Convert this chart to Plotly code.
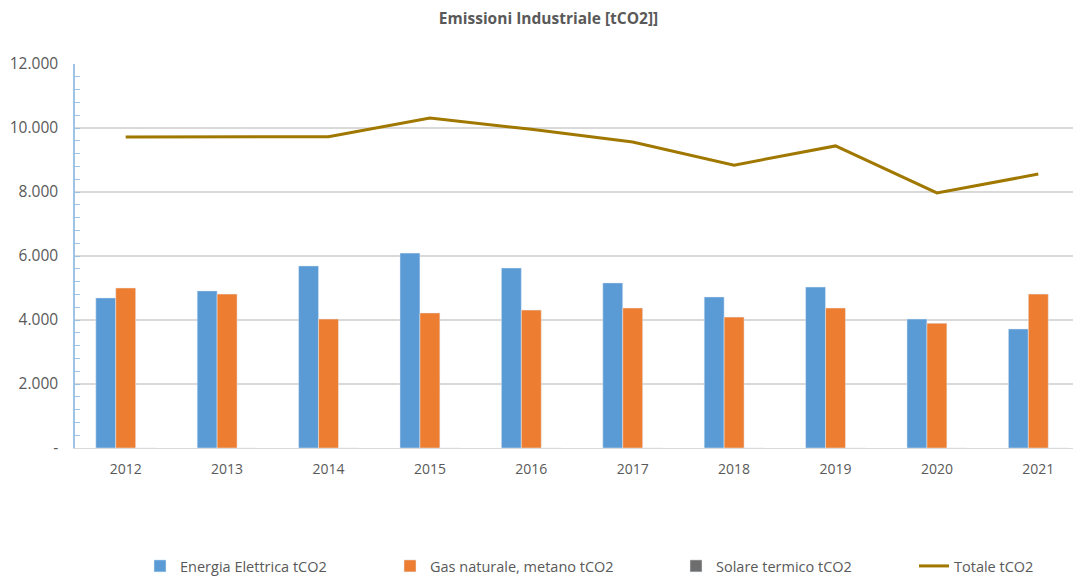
import plotly.graph_objects as go

# --- data ---
anni = ["2012", "2013", "2014", "2015", "2016", "2017", "2018", "2019", "2020", "2021"]
energia_elettrica = [4690, 4910, 5690, 6090, 5625, 5160, 4720, 5030, 4030, 3720]
gas_naturale = [5000, 4810, 4030, 4220, 4310, 4375, 4090, 4375, 3900, 4810]
solare_termico = [0, 0, 0, 0, 0, 0, 0, 0, 0, 0]
totale = [9720, 9720, 9730, 10310, 9960, 9560, 8840, 9440, 7970, 8560]

y_ticks = [0, 2000, 4000, 6000, 8000, 10000, 12000]
y_labels = ["-", "2.000", "4.000", "6.000", "8.000", "10.000", "12.000"]

FONT = "Open Sans, Liberation Sans, sans-serif"
TXT = "#595959"

fig = go.Figure()
fig.add_trace(go.Bar(x=anni, y=energia_elettrica, name="Energia Elettrica tCO2",
                     marker=dict(color="#5B9BD5"), legend="legend", showlegend=True))
fig.add_trace(go.Bar(x=anni, y=gas_naturale, name="Gas naturale, metano tCO2",
                     marker=dict(color="#ED7D31"), legend="legend2", showlegend=True))
fig.add_trace(go.Bar(x=anni, y=solare_termico, name="Solare termico tCO2",
                     marker=dict(color="#6E6E6E"), legend="legend3", showlegend=True))
fig.add_trace(go.Scatter(x=anni, y=totale, name="Totale tCO2", mode="lines",
                         line=dict(color="#A07800", width=3), legend="legend4",
                         showlegend=True))


def leg(xpx):
    return dict(orientation="h", xref="container", yref="container",
                x=xpx / 1081, y=1 - 558 / 578, yanchor="middle", xanchor="left",
                font=dict(size=14.5, color=TXT), bgcolor="rgba(0,0,0,0)")


fig.update_layout(
    width=1081, height=578, showlegend=True,
    paper_bgcolor="white", plot_bgcolor="white",
    margin=dict(l=67, r=0, t=56, b=138),
    barmode="group", bargap=0.41, bargroupgap=0,
    font=dict(family=FONT, color=TXT, size=14),
    title=dict(text="<b>Emissioni Industriale [tCO2]]</b>", x=0.5, xref="container",
               xanchor="center", y=1 - 11 / 578, yanchor="middle",
               font=dict(size=15.5, color=TXT, family=FONT)),
    xaxis=dict(type="category", range=[-0.5, 9.5], automargin=False,
               showline=True, linecolor="#D9D9D9", linewidth=1,
               ticks="", ticklabelstandoff=8,
               tickfont=dict(size=14, color=TXT), showgrid=False),
    yaxis=dict(range=[0, 12000], tickvals=y_ticks, ticktext=y_labels, automargin=False,
               showgrid=True, gridcolor="#D9D9D9", gridwidth=1.5,
               showline=True, linecolor="#9DC3E6", linewidth=1.5,
               ticks="inside", ticklen=5, tickcolor="#9DC3E6",
               minor=dict(dtick=400, ticks="inside", ticklen=5, tickcolor="#9DC3E6",
                          showgrid=False),
               ticklabelstandoff=12,
               tickfont=dict(size=15.5, color=TXT), zeroline=False),
    legend=leg(132),
    legend2=leg(382),
    legend3=leg(668),
    legend4=leg(906),
)

fig.write_html("out.html")
